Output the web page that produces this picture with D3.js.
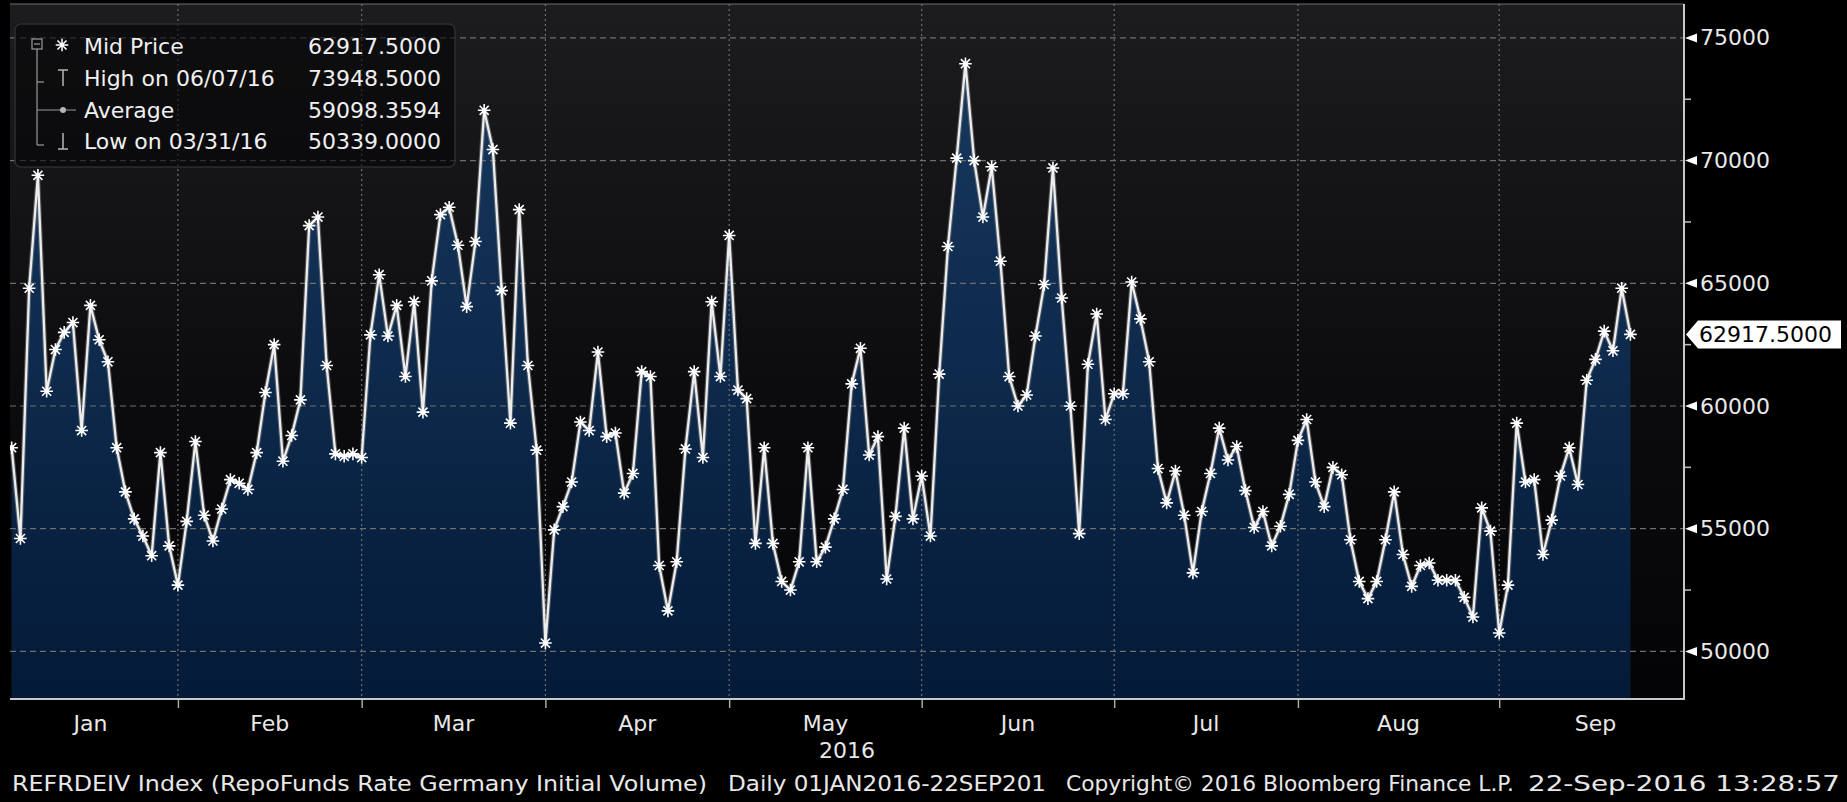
<!DOCTYPE html>
<html>
<head>
<meta charset="utf-8">
<script src="https://cdn.jsdelivr.net/npm/d3@7"></script>
<style>
  html, body { margin: 0; padding: 0; background: #000; }
  svg { display: block; }
  text { font-family: "DejaVu Sans", Verdana, sans-serif; }
</style>
</head>
<body>
<div id="chart"></div>
<script>
// Mid Price diário (dias úteis TARGET)
const priceJan = [58300, 54600, 64800, 69400, 60600, 62300, 63000, 63400, 59000, 64100,
  62700, 61800, 58300, 56500, 55400, 54700, 53900, 58100, 54300, 52700];
const priceFeb = [55300, 58550, 55550, 54500, 55800, 57000, 56850, 56600, 58100, 60550,
  62500, 57750, 58800, 60250, 67350, 67700, 61650, 58050, 57950, 58050, 57900];
const priceMar = [62900, 65350, 62850, 64100, 61200, 64250, 59750, 65100, 67800, 68100,
  66550, 64050, 66700, 72050, 70450, 64700, 59300, 68000, 61650, 58200, 50339];
const priceApr = [54950, 55900, 56900, 59350, 59000, 62200, 58750, 58900, 56450, 57250,
  61400, 61200, 53500, 51650, 53650, 58250, 61400, 57900, 64250, 61200, 66950];
const priceMay = [60650, 60300, 54400, 58300, 54400, 52850, 52500, 53650, 58300, 53650,
  54250, 55400, 56600, 60900, 62350, 58000, 58750, 52950, 55500, 59100, 55400, 57150];
const priceJun = [54700, 61300, 66500, 70100, 73948.5, 70000, 67700, 69750, 65900, 61200,
  60000, 60450, 62850, 64950, 69700, 64400, 60000, 54800, 61700, 63750, 59450, 60500];
const priceJul = [60500, 65050, 63550, 61800, 57450, 56050, 57350, 55550, 53200, 55700,
  57250, 59100, 57800, 58350, 56550, 55050, 55700, 54300, 55100, 56400, 58600];
const priceAug = [59450, 56900, 55900, 57500, 57200, 54550, 52850, 52150, 52850, 54550,
  56500, 53950, 52650, 53500, 53600, 52900, 52900, 52900, 52200, 51400, 55850, 54900, 50750];
const priceSep = [52700, 59300, 56900, 57000, 53950, 55350, 57150, 58300, 56800, 61050,
  61900, 63050, 62250, 64800, 62917.5];

const monthLabels = ["Jan", "Feb", "Mar", "Apr", "May", "Jun", "Jul", "Aug", "Sep"];
const businessDaysPerMonth = [20, 21, 21, 21, 22, 22, 21, 23, 22];
const yMajorTicks = [50000, 55000, 60000, 65000, 70000, 75000];
const yMinorTicks = [52500, 57500, 62500, 67500, 72500];

const legendLabels = ["Mid Price", "High on 06/07/16", "Average", "Low on 03/31/16"];
const legendValues = ["62917.5000", "73948.5000", "59098.3594", "50339.0000"];
const lastPriceLabel = "62917.5000";
const yearLabel = "2016";
const footerParts = [
  "REFRDEIV Index (RepoFunds Rate Germany Initial Volume)",
  "Daily 01JAN2016-22SEP201",
  "Copyright\u00A9 2016 Bloomberg Finance L.P.",
  "22-Sep-2016 13:28:57"
];

function drawChart() {
  const W = 1847, H = 802;
  const plot = { left: 10, right: 1684, top: 4, bottom: 699 };

  const midPrice = [].concat(priceJan, priceFeb, priceMar, priceApr, priceMay,
    priceJun, priceJul, priceAug, priceSep);
  const data = midPrice.map((v, i) => ({ i, v }));

  // fim de cada mês em índice de dia útil (Jan 1 é feriado -> -1)
  const cum = d3.cumsum(businessDaysPerMonth);
  const monthEnds = Array.from(cum, (c) => c - 1);
  const monthStarts = [-1].concat(monthEnds.slice(0, -1));

  const x = d3.scaleLinear().domain([-0.19, 191.12]).range([plot.left, plot.right]);
  const y = d3.scaleLinear().domain([48060, 76381]).range([plot.bottom, plot.top]);

  const svg = d3.select("#chart").append("svg")
    .attr("width", W).attr("height", H);

  svg.append("rect").attr("width", W).attr("height", H).attr("fill", "#000");

  const defs = svg.append("defs");
  const bg = defs.append("linearGradient").attr("id", "bgGrad")
    .attr("x1", 0).attr("y1", 0).attr("x2", 0).attr("y2", 1);
  bg.append("stop").attr("offset", "0%").attr("stop-color", "#1c1c1e");
  bg.append("stop").attr("offset", "60%").attr("stop-color", "#0b0b0d");
  bg.append("stop").attr("offset", "100%").attr("stop-color", "#040406");

  const fillGrad = defs.append("linearGradient").attr("id", "fillGrad")
    .attr("gradientUnits", "userSpaceOnUse")
    .attr("x1", 0).attr("y1", y(75000)).attr("x2", 0).attr("y2", plot.bottom);
  fillGrad.append("stop").attr("offset", "0%").attr("stop-color", "#17395f");
  fillGrad.append("stop").attr("offset", "100%").attr("stop-color", "#041a38");

  defs.append("clipPath").attr("id", "plotClip")
    .append("rect")
    .attr("x", plot.left).attr("y", plot.top)
    .attr("width", plot.right - plot.left).attr("height", plot.bottom - plot.top);

  // fundo da área do gráfico
  svg.append("rect")
    .attr("x", plot.left).attr("y", plot.top)
    .attr("width", plot.right - plot.left).attr("height", plot.bottom - plot.top)
    .attr("fill", "url(#bgGrad)");

  const g = svg.append("g").attr("clip-path", "url(#plotClip)");

  const area = d3.area().x((d) => x(d.i)).y0(plot.bottom).y1((d) => y(d.v));
  g.append("path").datum(data).attr("d", area).attr("fill", "url(#fillGrad)");

  // grade
  g.selectAll(".hgrid").data(yMajorTicks).enter().append("line")
    .attr("x1", plot.left).attr("x2", plot.right)
    .attr("y1", (d) => y(d)).attr("y2", (d) => y(d))
    .attr("stroke", "#6e6e6e").attr("stroke-width", 1.2)
    .attr("stroke-dasharray", "6,4");

  g.selectAll(".vgrid").data(monthEnds.slice(0, -1)).enter().append("line")
    .attr("x1", (d) => x(d)).attr("x2", (d) => x(d))
    .attr("y1", plot.top).attr("y2", plot.bottom)
    .attr("stroke", "#6e6e6e").attr("stroke-width", 1.2)
    .attr("stroke-dasharray", "2,3");

  const line = d3.line().x((d) => x(d.i)).y((d) => y(d.v));
  g.append("path").datum(data).attr("d", line)
    .attr("fill", "none").attr("stroke", "#8a8a8a").attr("stroke-width", 4.5)
    .attr("stroke-opacity", 0.5).attr("stroke-linejoin", "round");
  g.append("path").datum(data).attr("d", line)
    .attr("fill", "none").attr("stroke", "#ececec").attr("stroke-width", 2.3)
    .attr("stroke-linejoin", "round");

  // marcadores em asterisco
  const r = 6.3, dd = r * 0.72;
  const star = `M${-r},0H${r}M0,${-r}V${r}M${-dd},${-dd}L${dd},${dd}M${-dd},${dd}L${dd},${-dd}`;
  const marks = g.selectAll(".mark").data(data).enter().append("g")
    .attr("transform", (d) => `translate(${x(d.i)},${y(d.v)})`);
  marks.append("path").attr("d", star)
    .attr("stroke", "#fff").attr("stroke-width", 1.6).attr("fill", "none");
  marks.append("circle").attr("r", 2.4).attr("fill", "#fff");

  // borda superior
  svg.append("line")
    .attr("x1", plot.left).attr("x2", plot.right)
    .attr("y1", plot.top).attr("y2", plot.top)
    .attr("stroke", "#707070").attr("stroke-width", 1);

  // legenda
  const leg = svg.append("g");
  leg.append("rect")
    .attr("x", 15).attr("y", 24).attr("width", 440).attr("height", 143)
    .attr("rx", 6).attr("ry", 6)
    .attr("fill", "#050506").attr("fill-opacity", 0.6)
    .attr("stroke", "#2e2e30").attr("stroke-width", 1.5);

  const rowY = [46, 78, 110, 141];
  const treeX = 37;
  leg.append("rect").attr("x", treeX - 5).attr("y", rowY[0] - 7)
    .attr("width", 10).attr("height", 10)
    .attr("fill", "none").attr("stroke", "#9a9a9a").attr("stroke-width", 1.2);
  leg.append("line").attr("x1", treeX - 3).attr("x2", treeX + 3)
    .attr("y1", rowY[0] - 2).attr("y2", rowY[0] - 2)
    .attr("stroke", "#9a9a9a").attr("stroke-width", 1.2);
  leg.append("line").attr("x1", treeX).attr("x2", treeX)
    .attr("y1", rowY[0] + 3).attr("y2", rowY[3] + 4)
    .attr("stroke", "#9a9a9a").attr("stroke-width", 1.2);
  [1, 3].forEach((k) => {
    leg.append("line").attr("x1", treeX).attr("x2", treeX + 7)
      .attr("y1", rowY[k] + 4).attr("y2", rowY[k] + 4)
      .attr("stroke", "#9a9a9a").attr("stroke-width", 1.2);
  });
  leg.append("line").attr("x1", treeX).attr("x2", 76)
    .attr("y1", rowY[2]).attr("y2", rowY[2])
    .attr("stroke", "#9a9a9a").attr("stroke-width", 1.2);
  leg.append("circle").attr("cx", 63).attr("cy", rowY[2]).attr("r", 3)
    .attr("fill", "#b5b5b5");
  leg.append("path").attr("d", star)
    .attr("transform", `translate(62,${rowY[0] - 1})`)
    .attr("stroke", "#fff").attr("stroke-width", 1.5).attr("fill", "none");
  leg.append("path")
    .attr("d", `M58,${rowY[1] - 8}H68M63,${rowY[1] - 8}V${rowY[1] + 8}`)
    .attr("stroke", "#b5b5b5").attr("stroke-width", 1.5).attr("fill", "none");
  leg.append("path")
    .attr("d", `M63,${rowY[3] - 8}V${rowY[3] + 8}M58,${rowY[3] + 8}H68`)
    .attr("stroke", "#b5b5b5").attr("stroke-width", 1.5).attr("fill", "none");

  leg.selectAll(".legLabel").data(legendLabels).enter().append("text")
    .attr("x", 84).attr("y", (d, i) => rowY[i])
    .attr("dominant-baseline", "central")
    .attr("font-size", "22px").attr("fill", "#f0f0f0")
    .text((d) => d);
  leg.selectAll(".legValue").data(legendValues).enter().append("text")
    .attr("x", 441).attr("y", (d, i) => rowY[i])
    .attr("text-anchor", "end").attr("dominant-baseline", "central")
    .attr("font-size", "22px").attr("fill", "#f0f0f0")
    .text((d) => d);

  // eixo Y à direita
  const yAxis = svg.append("g")
    .attr("transform", `translate(${plot.right},0)`)
    .call(d3.axisRight(y).tickValues(yMajorTicks).tickSize(0).tickPadding(16)
      .tickFormat(d3.format("d")))
    .call((ax) => ax.select(".domain").remove());
  yAxis.selectAll("text")
    .attr("font-size", "22px").attr("fill", "#e8e8e8")
    .attr("font-family", "DejaVu Sans, Verdana, sans-serif");

  svg.selectAll(".minorTick").data(yMinorTicks).enter().append("line")
    .attr("x1", plot.right).attr("x2", plot.right + 7)
    .attr("y1", (d) => y(d)).attr("y2", (d) => y(d))
    .attr("stroke", "#bdbdbd").attr("stroke-width", 1.5);

  svg.selectAll(".majorTick").data(yMajorTicks).enter().append("path")
    .attr("d", (d) => `M${plot.right + 1},${y(d)}L${plot.right + 13},${y(d) - 4.5}L${plot.right + 13},${y(d) + 4.5}Z`)
    .attr("fill", "#ffffff");

  svg.append("line")
    .attr("x1", plot.right).attr("x2", plot.right)
    .attr("y1", plot.top).attr("y2", plot.bottom + 1)
    .attr("stroke", "#c8c8c8").attr("stroke-width", 2);

  // eixo X
  svg.append("g")
    .attr("transform", `translate(0,${plot.bottom})`)
    .call(d3.axisBottom(x).tickValues(monthEnds.slice(0, -1)).tickSize(9).tickFormat(""))
    .call((ax) => ax.select(".domain").remove())
    .call((ax) => ax.selectAll(".tick line").attr("stroke", "#a8a8a8").attr("stroke-width", 1.5));

  svg.append("line")
    .attr("x1", plot.left).attr("x2", plot.right + 1)
    .attr("y1", plot.bottom).attr("y2", plot.bottom)
    .attr("stroke", "#c8c8c8").attr("stroke-width", 2);

  svg.selectAll(".monthLabel").data(monthLabels).enter().append("text")
    .attr("x", (d, i) => x((monthStarts[i] + monthEnds[i]) / 2))
    .attr("y", 723)
    .attr("text-anchor", "middle").attr("dominant-baseline", "central")
    .attr("font-size", "22px").attr("fill", "#e8e8e8")
    .text((d) => d);

  svg.append("text")
    .attr("x", (plot.left + plot.right) / 2).attr("y", 750)
    .attr("text-anchor", "middle").attr("dominant-baseline", "central")
    .attr("font-size", "22px").attr("fill", "#e8e8e8")
    .text(yearLabel);

  // etiqueta do último preço
  const yl = y(midPrice[midPrice.length - 1]);
  svg.append("path")
    .attr("d", `M${plot.right + 2},${yl}L${plot.right + 14},${yl - 14}H1841V${yl + 14}H${plot.right + 14}Z`)
    .attr("fill", "#ffffff");
  svg.append("text")
    .attr("x", 1699).attr("y", yl)
    .attr("dominant-baseline", "central")
    .attr("font-size", "22px").attr("fill", "#000")
    .text(lastPriceLabel);

  // rodapé
  const footerX = [12, 728, 1066, 1528];
  const footerW = [695, 318, 448, 312];
  svg.selectAll(".footer").data(footerParts).enter().append("text")
    .attr("x", (d, i) => footerX[i]).attr("y", 784)
    .attr("dominant-baseline", "central")
    .attr("font-size", "21px").attr("fill", "#e8e8e8")
    .attr("textLength", (d, i) => footerW[i])
    .attr("lengthAdjust", "spacingAndGlyphs")
    .text((d) => d);
}

drawChart();
</script>
</body>
</html>
